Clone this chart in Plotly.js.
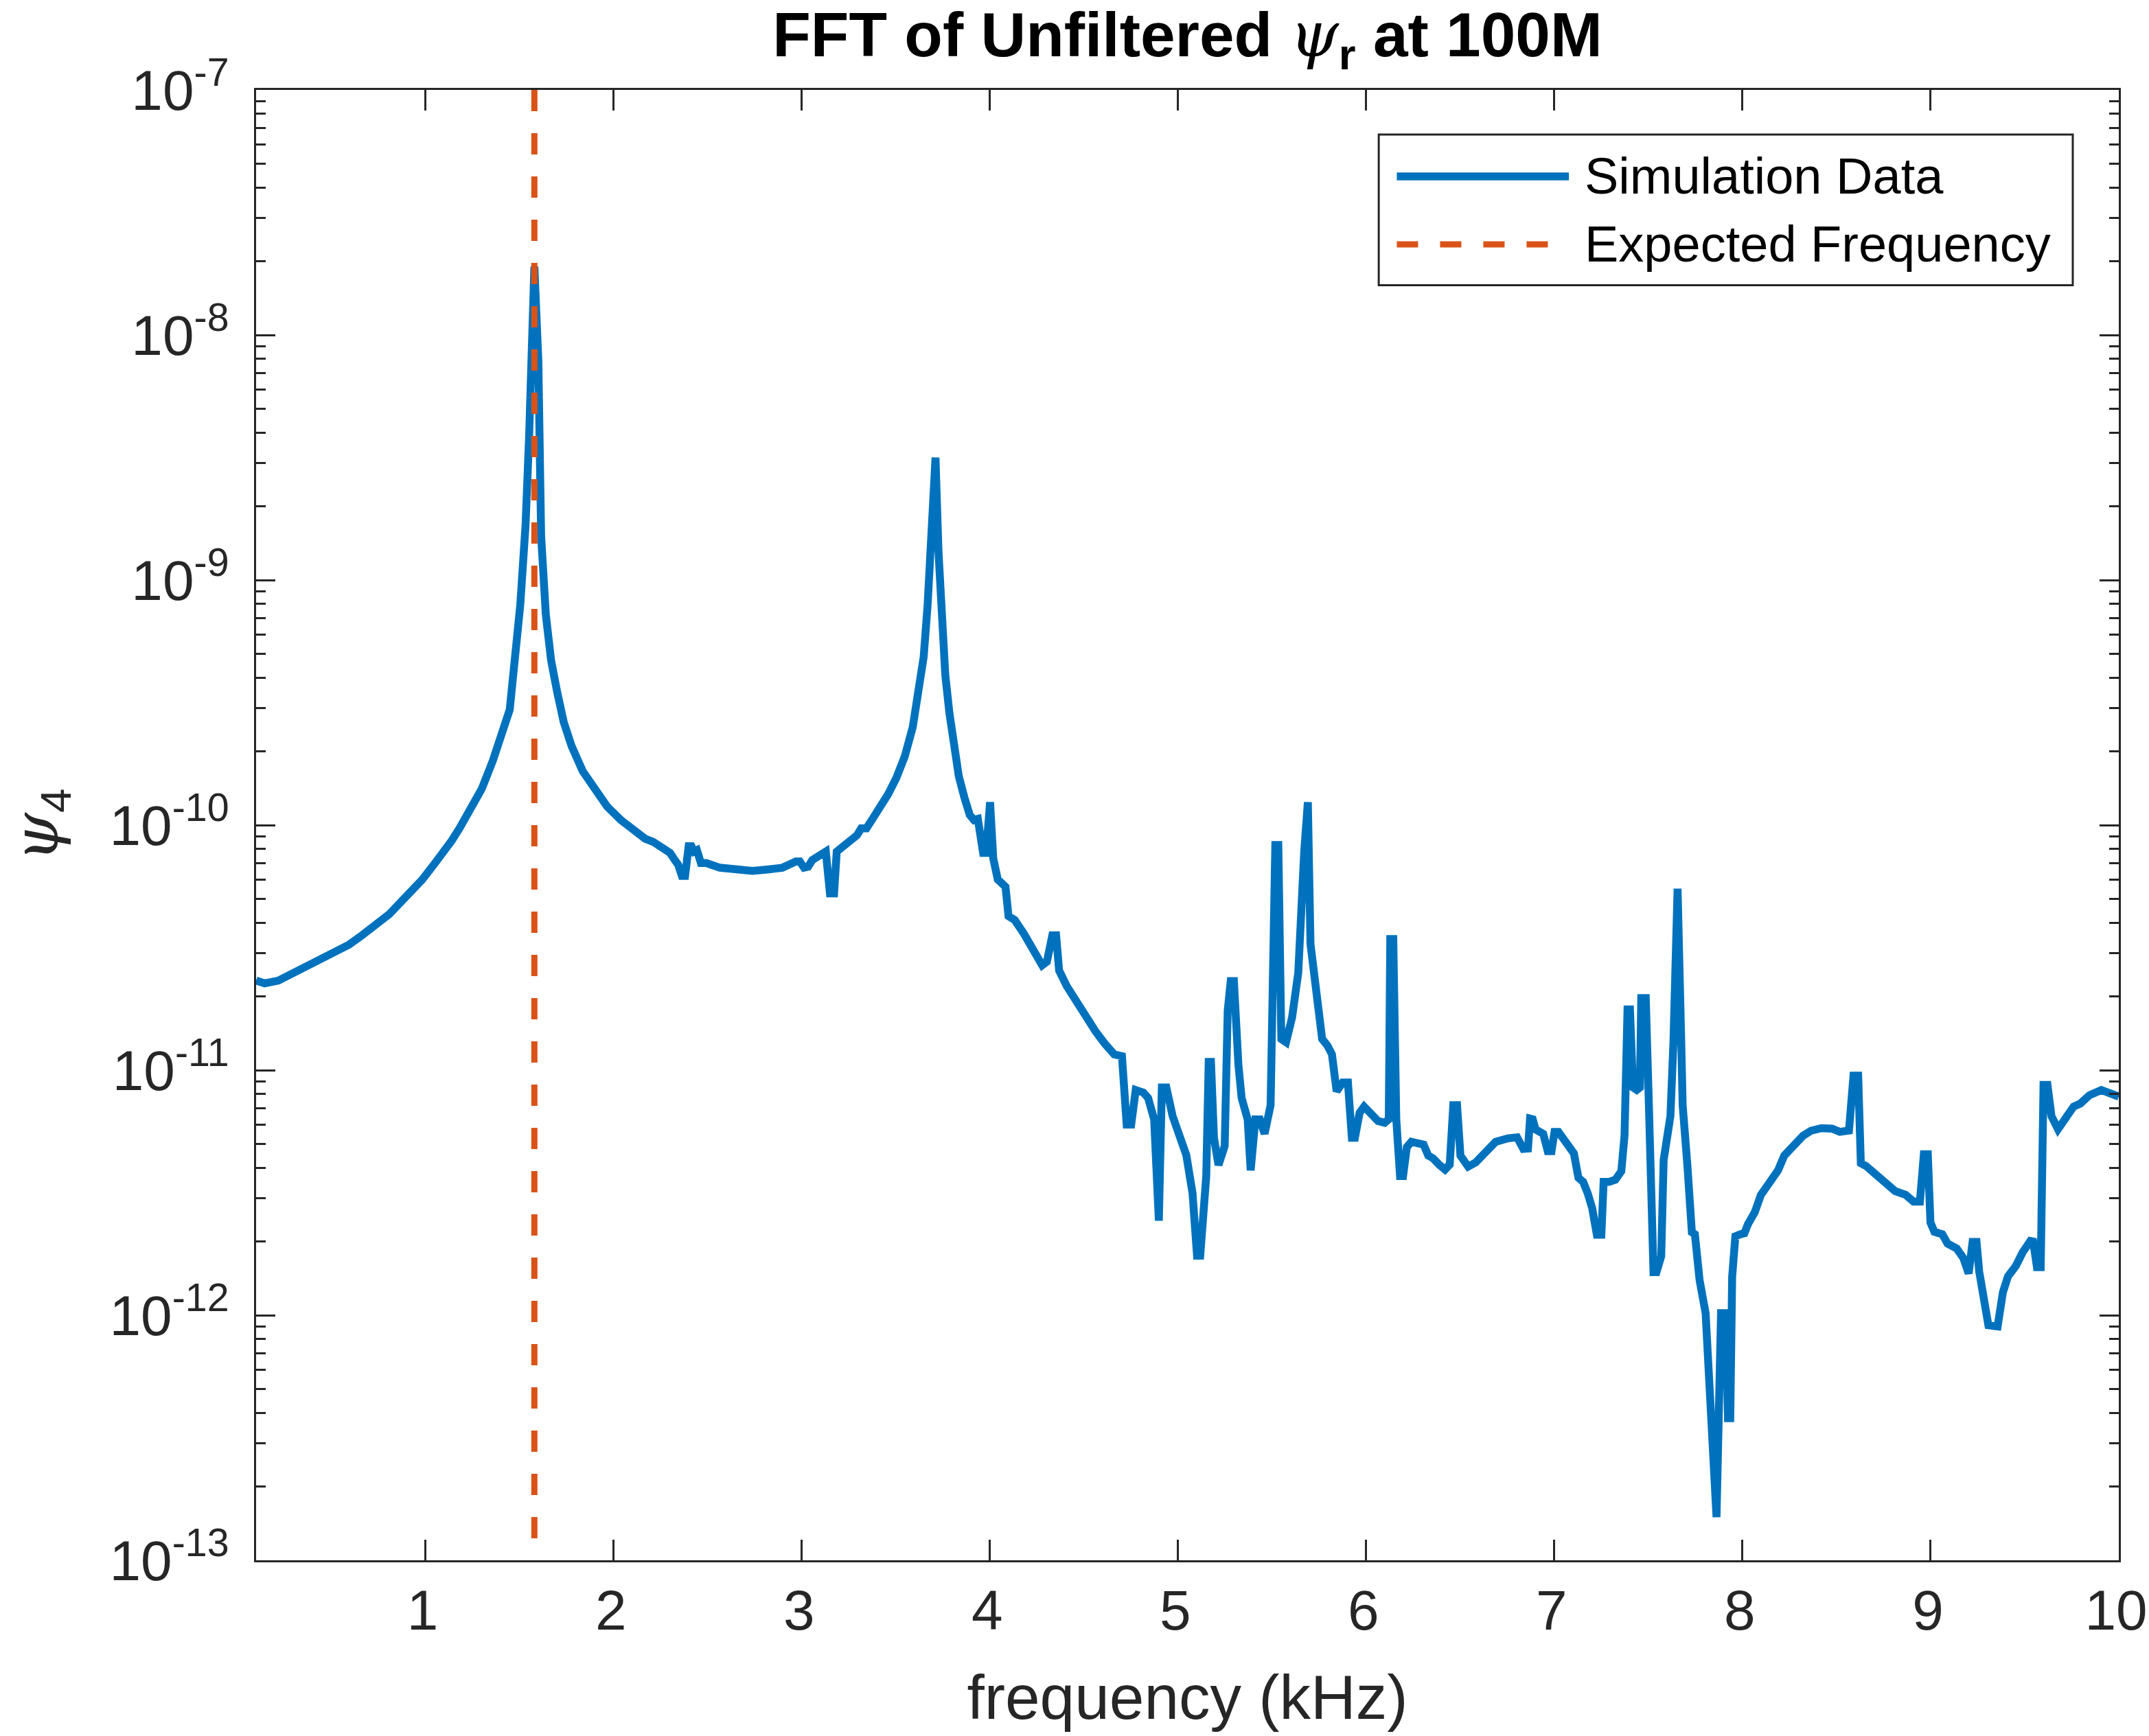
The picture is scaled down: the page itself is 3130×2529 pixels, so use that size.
<!DOCTYPE html>
<html>
<head>
<meta charset="utf-8">
<script src="https://cdn.plot.ly/plotly-3.0.1.min.js"></script>
<style>html,body{margin:0;padding:0;background:#fff;}#chart{width:3130px;height:2529px;}</style>
</head>
<body>
<div id="chart"></div>
<script>
// frequency (kHz)
const freq = [
0.100,0.145,0.218,0.318,0.448,0.521,0.593,0.665,0.737,0.809,0.867,0.925,0.982,1.040,1.098,1.141,1.184,1.242,1.300,1.358,1.408,1.448,1.504,1.532,1.551,1.579,
1.600,1.615,1.640,1.668,1.700,1.735,1.778,1.836,1.894,1.966,2.038,2.110,2.168,2.210,2.240,2.270,2.300,2.320,2.343,2.363,
2.380,2.399,2.414,2.428,2.443,2.464,2.493,2.565,2.637,2.738,2.825,2.897,2.969,2.990,3.012,3.034,3.056,3.099,3.128,3.150,
3.172,3.186,3.215,3.258,3.294,3.316,3.344,3.373,3.417,3.460,3.503,3.547,3.590,3.626,3.648,3.669,3.691,3.711,3.727,3.741,
3.763,3.785,3.806,3.835,3.864,3.893,3.915,3.936,3.964,3.980,4.001,4.018,4.042,4.083,4.099,4.132,4.181,4.221,4.278,4.303,
4.332,4.352,4.368,4.409,4.458,4.515,4.564,4.612,4.661,4.702,4.727,4.751,4.775,4.816,4.841,4.873,4.898,4.914,4.938,4.971,
5.012,5.044,5.077,5.101,5.118,5.150,5.163,5.175,5.191,5.215,5.248,5.264,5.280,5.297,5.321,5.338,5.370,5.386,5.411,5.435,
5.460,5.492,5.517,5.533,5.549,5.574,5.606,5.639,5.671,5.690,5.704,5.737,5.766,5.794,5.818,5.843,5.875,5.903,5.924,5.940,
5.965,5.989,6.030,6.063,6.098,6.120,6.128,6.144,6.160,6.180,6.196,6.216,6.240,6.281,6.305,6.330,6.355,6.387,6.419,6.444,
6.463,6.483,6.501,6.542,6.582,6.688,6.720,6.753,6.802,6.835,6.860,6.871,6.885,6.900,6.941,6.965,6.985,7.001,7.022,7.063,
7.104,7.128,7.153,7.177,7.201,7.226,7.250,7.262,7.291,7.324,7.356,7.373,7.389,7.402,7.418,7.438,7.455,7.462,7.486,7.503,
7.527,7.543,7.568,7.581,7.617,7.633,7.655,7.674,7.682,7.707,7.731,7.747,7.772,7.804,7.829,7.862,7.886,7.910,7.923,7.935,
7.945,7.962,7.990,8.010,8.030,8.065,8.098,8.125,8.155,8.189,8.222,8.255,8.283,8.322,8.364,8.420,8.476,8.517,8.566,8.590,
8.615,8.629,8.657,8.699,8.755,8.811,8.867,8.909,8.943,8.964,8.985,8.999,9.020,9.062,9.090,9.139,9.174,9.202,9.223,9.244,
9.258,9.279,9.307,9.356,9.384,9.411,9.453,9.488,9.530,9.545,9.565,9.585,9.600,9.621,9.642,9.677,9.719,9.760,9.795,9.844,
9.907,9.956,10.000
];
// psi_4 magnitude (simulation data)
const psi4 = [
2.32e-11,2.26e-11,2.32e-11,2.54e-11,2.81e-11,3.02e-11,3.25e-11,3.56e-11,3.90e-11,4.34e-11,4.83e-11,5.37e-11,5.98e-11,6.82e-11,7.78e-11,8.67e-11,9.79e-11,1.17e-10,1.41e-10,1.83e-10,2.38e-10,2.96e-10,7.9e-10,1.67e-9,3.85e-9,1.9e-8,
7.9e-9,1.51e-9,7.2e-10,4.7e-10,3.5e-10,2.63e-10,2.09e-10,1.66e-10,1.43e-10,1.19e-10,1.05e-10,9.5e-11,8.8e-11,8.55e-11,8.2e-11,7.9e-11,7.7e-11,7.3e-11,6.9e-11,6.2e-11,
6.2e-11,8.2e-11,8.2e-11,7.8e-11,7.9e-11,7.0e-11,7.0e-11,6.7e-11,6.6e-11,6.5e-11,6.6e-11,6.7e-11,7.1e-11,7.1e-11,6.7e-11,6.76e-11,7.2e-11,7.55e-11,7.8e-11,5.26e-11,
5.26e-11,7.8e-11,8.1e-11,8.6e-11,9.1e-11,9.7e-11,9.7e-11,1.05e-10,1.18e-10,1.34e-10,1.56e-10,1.90e-10,2.51e-10,3.61e-10,4.85e-10,7.9e-10,1.64e-9,3.16e-9,1.30e-9,7.3e-10,
4.1e-10,2.86e-10,2.13e-10,1.58e-10,1.30e-10,1.10e-10,1.05e-10,1.06e-10,7.7e-11,7.7e-11,1.24e-10,7.3e-11,6.0e-11,5.6e-11,4.25e-11,4.1e-11,3.6e-11,3.16e-11,2.68e-11,2.77e-11,
3.55e-11,3.55e-11,2.55e-11,2.2e-11,1.9e-11,1.61e-11,1.43e-11,1.28e-11,1.16e-11,1.14e-11,6.0e-12,6.0e-12,8.3e-12,8.1e-12,7.7e-12,6.3e-12,2.43e-12,8.5e-12,8.5e-12,6.5e-12,
5.3e-12,4.5e-12,3.15e-12,1.75e-12,1.75e-12,3.7e-12,1.08e-11,1.08e-11,5.3e-12,4.1e-12,4.9e-12,1.75e-11,2.31e-11,2.31e-11,1.05e-11,7.7e-12,6.3e-12,3.9e-12,6.3e-12,6.3e-12,
5.5e-12,7.2e-12,8.3e-11,8.3e-11,1.34e-11,1.3e-11,1.64e-11,2.5e-11,7.9e-11,1.24e-10,3.27e-11,1.9e-11,1.34e-11,1.26e-11,1.16e-11,8.2e-12,8.9e-12,8.9e-12,5.3e-12,5.3e-12,
6.7e-12,7.1e-12,6.6e-12,6.2e-12,6.1e-12,6.3e-12,3.43e-11,3.43e-11,6.3e-12,3.7e-12,3.7e-12,4.85e-12,5.1e-12,4.97e-12,4.97e-12,4.48e-12,4.37e-12,4.12e-12,3.93e-12,4.12e-12,
7.2e-12,7.2e-12,4.48e-12,4.04e-12,4.2e-12,5.1e-12,5.19e-12,5.27e-12,5.32e-12,4.77e-12,4.79e-12,6.35e-12,6.31e-12,5.73e-12,5.5e-12,4.67e-12,4.67e-12,5.6e-12,5.6e-12,4.97e-12,
4.57e-12,3.64e-12,3.5e-12,3.15e-12,2.74e-12,2.13e-12,2.13e-12,3.5e-12,3.5e-12,3.57e-12,3.87e-12,5.4e-12,1.77e-11,1.77e-11,8.5e-12,8.3e-12,8.5e-12,1.97e-11,1.97e-11,7.0e-12,
1.5e-12,1.5e-12,1.74e-12,4.3e-12,6.5e-12,1.3e-11,5.5e-11,1.36e-11,7.2e-12,4.1e-12,2.18e-12,2.14e-12,1.39e-12,1.02e-12,4.5e-13,1.5e-13,1.02e-12,1.02e-12,3.8e-13,3.8e-13,
1.43e-12,2.1e-12,2.14e-12,2.16e-12,2.36e-12,2.63e-12,3.1e-12,3.3e-12,3.6e-12,3.9e-12,4.48e-12,4.74e-12,5.1e-12,5.4e-12,5.66e-12,5.8e-12,5.77e-12,5.6e-12,5.67e-12,9.5e-12,
9.5e-12,4.17e-12,4.06e-12,3.82e-12,3.55e-12,3.21e-12,3.1e-12,2.91e-12,2.91e-12,4.54e-12,4.54e-12,2.39e-12,2.19e-12,2.14e-12,1.96e-12,1.87e-12,1.71e-12,1.48e-12,1.99e-12,1.99e-12,
1.51e-12,1.23e-12,9.1e-13,9.0e-13,1.24e-12,1.44e-12,1.59e-12,1.8e-12,2.01e-12,2.0e-12,1.57e-12,1.57e-12,8.7e-12,8.7e-12,6.5e-12,5.74e-12,6.4e-12,7.1e-12,7.3e-12,7.9e-12,
8.3e-12,8.0e-12,7.8e-12
];
// expected frequency (kHz)
const expectedFreq = 1.579;
const yLimits = [1e-13, 1e-7];
const xTicks = [1,2,3,4,5,6,7,8,9,10];
const yTickVals = [1e-13,1e-12,1e-11,1e-10,1e-9,1e-8,1e-7];
const yTickText = ['10<sup>-13</sup>','10<sup>-12</sup>','10<sup>-11</sup>','10<sup>-10</sup>','10<sup>-9</sup>','10<sup>-8</sup>','10<sup>-7</sup>'];
const seriesNames = ['Simulation Data','Expected Frequency'];

const minorVals = [];
for (let e = -13; e < -7; e++) for (let d = 2; d <= 9; d++) minorVals.push(d * Math.pow(10, e));

const AX = '#262626';
const FONT = 'Liberation Sans, Arial, Helvetica, sans-serif';
const BLUE = '#0072BD', RED = '#D95319';

const traces = [
  {x: freq, y: psi4, type: 'scatter', mode: 'lines', name: seriesNames[0],
   line: {color: BLUE, width: 11.5}, showlegend: false},
  {x: [expectedFreq, expectedFreq], y: [yLimits[1], yLimits[0]], type: 'scatter', mode: 'lines',
   name: seriesNames[1], line: {color: RED, width: 9, dash: '31px,32px'}, showlegend: false}
];

// legend box (paper coordinates)
const lg = {x0: 0.6027, x1: 0.9753, y0: 0.8672, y1: 0.9697, lx0: 0.6124, lx1: 0.7048, tx: 0.7125, r1: 0.9412, r2: 0.8950};

const layout = {
  width: 3130, height: 2529,
  paper_bgcolor: '#fff', plot_bgcolor: '#fff',
  margin: {l: 373, r: 44, t: 131, b: 256, pad: 0},
  font: {family: FONT, color: AX},
  showlegend: false,
  title: {
    text: '<b>FFT of Unfiltered <span style="font-family:\'DejaVu Serif\';font-weight:normal"><i>ψ</i></span><sub>r</sub> at 100M</b>',
    font: {family: FONT, size: 91, color: '#000'},
    x: 0.5, xref: 'paper', xanchor: 'center',
    y: 1 - 50/2529, yref: 'container', yanchor: 'middle'
  },
  xaxis: {
    range: [0.1, 10], tickmode: 'array', tickvals: xTicks, ticktext: xTicks.map(String),
    ticks: 'inside', ticklen: 30, tickwidth: 3, tickcolor: AX,
    showline: true, linewidth: 3, linecolor: AX, mirror: 'ticks',
    showgrid: false, zeroline: false, ticklabeloverflow: 'allow', ticklabelshift: -4,
    tickfont: {family: FONT, size: 82, color: AX},
    automargin: false,
    title: {text: 'frequency (kHz)', font: {family: FONT, size: 91, color: AX}, standoff: 50}
  },
  yaxis: {
    type: 'log', range: [-13, -7], tickmode: 'array', tickvals: yTickVals, ticktext: yTickText,
    ticks: 'inside', ticklen: 28, tickwidth: 3, tickcolor: AX,
    minor: {tickmode: 'array', tickvals: minorVals, ticks: 'inside', ticklen: 14, tickwidth: 3, tickcolor: AX, showgrid: false},
    showline: true, linewidth: 3, linecolor: AX, mirror: 'ticks',
    showgrid: false, zeroline: false, ticklabelstandoff: 20,
    tickfont: {family: FONT, size: 82, color: AX},
    automargin: false,
    title: {text: '<span style="font-family:\'DejaVu Serif\'"><i>ψ</i></span><sub>4</sub>', font: {family: FONT, size: 91, color: AX}, standoff: 55}
  },
  shapes: [
    {type: 'rect', xref: 'paper', yref: 'paper', x0: lg.x0, x1: lg.x1, y0: lg.y0, y1: lg.y1,
     line: {color: AX, width: 3}, fillcolor: '#fff', layer: 'above'},
    {type: 'line', xref: 'paper', yref: 'paper', x0: lg.lx0, x1: lg.lx1, y0: lg.r1, y1: lg.r1,
     line: {color: BLUE, width: 11.5}, layer: 'above'},
    {type: 'line', xref: 'paper', yref: 'paper', x0: lg.lx0, x1: lg.lx1, y0: lg.r2, y1: lg.r2,
     line: {color: RED, width: 9, dash: '31px,32px'}, layer: 'above'}
  ],
  annotations: [
    {xref: 'paper', yref: 'paper', x: lg.tx, y: lg.r1, xanchor: 'left', yanchor: 'middle', showarrow: false,
     text: seriesNames[0], font: {family: FONT, size: 74, color: '#000'}},
    {xref: 'paper', yref: 'paper', x: lg.tx, y: lg.r2, xanchor: 'left', yanchor: 'middle', showarrow: false,
     text: seriesNames[1], font: {family: FONT, size: 74, color: '#000'}}
  ]
};

Plotly.newPlot('chart', traces, layout, {displayModeBar: false, staticPlot: true});
</script>
</body>
</html>
